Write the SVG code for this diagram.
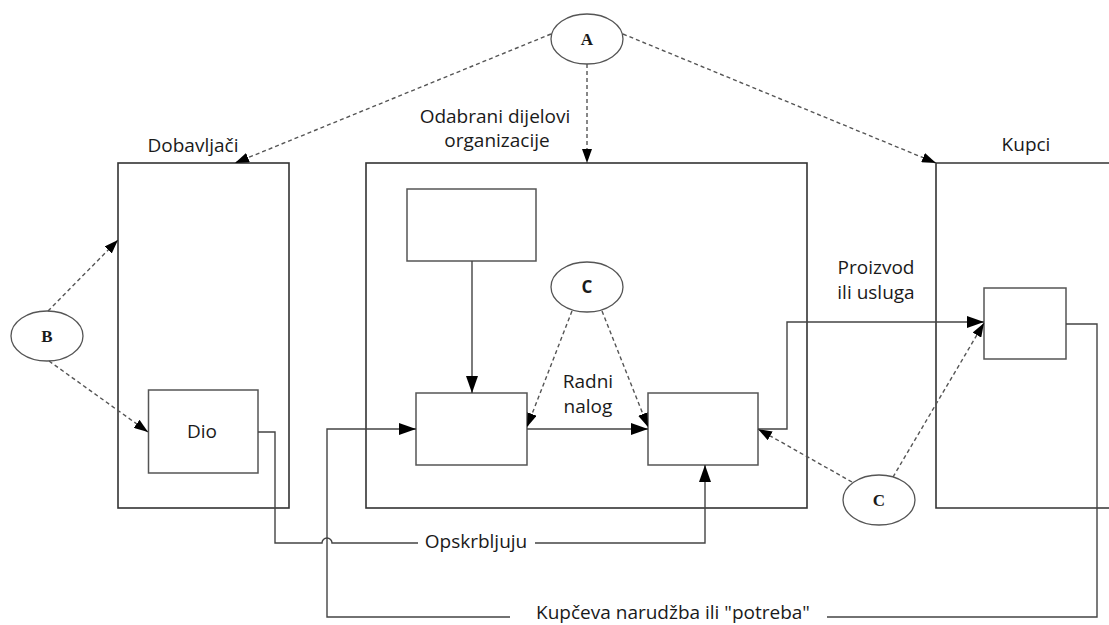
<svg xmlns="http://www.w3.org/2000/svg" width="1109" height="625" viewBox="0 0 1109 625">
<style>
.big{fill:none;stroke:#333;stroke-width:1.6}
.box{fill:#fff;stroke:#555;stroke-width:1.5}
.ell{fill:#fff;stroke:#555;stroke-width:1.3}
.dash{fill:none;stroke:#555;stroke-width:1.4;stroke-dasharray:4 3}
.solid{fill:none;stroke:#444;stroke-width:1.4}
.lbl{font-family:"Open Sans","Liberation Sans",sans-serif;font-size:19px;fill:#1a1a1a;text-anchor:middle}
.let{font-family:"Liberation Serif",serif;font-weight:bold;font-size:17px;fill:#1a1a1a;text-anchor:middle}
</style>
<defs>
<marker id="ah" markerWidth="17" markerHeight="12" refX="17" refY="6" orient="auto" markerUnits="userSpaceOnUse"><path d="M0,0 L17,6 L0,12 Z" fill="#000"/></marker>
<marker id="ad" markerWidth="14" markerHeight="10" refX="14" refY="5" orient="auto" markerUnits="userSpaceOnUse"><path d="M0,0 L14,5 L0,10 Z" fill="#000"/></marker>
</defs>

<g id="dobavljaci">
<rect class="big" x="118" y="163" width="171" height="345"/>
<text class="lbl" x="193" y="152">Dobavljači</text>
</g>
<g id="organizacija">
<rect class="big" x="366" y="163" width="441" height="345"/>
<text class="lbl" x="495" y="123">Odabrani dijelovi</text>
<text class="lbl" x="497" y="147">organizacije</text>
</g>
<g id="kupci">
<path class="big" d="M1109,163 H936 V508 H1109"/>
<text class="lbl" x="1026" y="151">Kupci</text>
</g>
<g id="dio">
<rect class="box" x="148.5" y="390" width="109.5" height="83"/>
<text class="lbl" x="202" y="438">Dio</text>
</g>
<g id="box-top"><rect class="box" x="407" y="189" width="129" height="72"/></g>
<g id="box-left"><rect class="box" x="416" y="393" width="111" height="72"/></g>
<g id="box-right"><rect class="box" x="648" y="393" width="110" height="72"/></g>
<g id="box-kupac"><rect class="box" x="984" y="288" width="82" height="71"/></g>

<g id="nodeA"><ellipse class="ell" cx="587" cy="39" rx="36" ry="25"/><text class="let" x="587" y="45">A</text></g>
<g id="nodeB"><ellipse class="ell" cx="47" cy="336" rx="36" ry="25"/><text class="let" x="47" y="342">B</text></g>
<g id="nodeC1"><ellipse class="ell" cx="587" cy="287" rx="36" ry="25"/><text class="let" x="587" y="293" style="font-family:'Open Sans','Liberation Sans',sans-serif">C</text></g>
<g id="nodeC2"><ellipse class="ell" cx="879" cy="500" rx="36" ry="25"/><text class="let" x="879" y="506">C</text></g>

<g id="connectors">
<line class="dash" x1="551" y1="34" x2="235" y2="163" marker-end="url(#ad)"/>
<line class="dash" x1="587" y1="64" x2="587" y2="163" marker-end="url(#ad)"/>
<line class="dash" x1="623" y1="34" x2="936" y2="163" marker-end="url(#ad)"/>
<line class="dash" x1="48" y1="311" x2="118" y2="240" marker-end="url(#ad)"/>
<line class="dash" x1="49" y1="361" x2="148" y2="432" marker-end="url(#ad)"/>
<line class="dash" x1="572" y1="311" x2="527" y2="427" marker-end="url(#ad)"/>
<line class="dash" x1="602" y1="311" x2="648" y2="427" marker-end="url(#ad)"/>
<line class="dash" x1="852" y1="482" x2="758" y2="429" marker-end="url(#ad)"/>
<line class="dash" x1="893" y1="477" x2="984" y2="323" marker-end="url(#ad)"/>

<line class="solid" x1="472" y1="261" x2="472" y2="393" marker-end="url(#ah)"/>
<line class="solid" x1="527" y1="429" x2="648" y2="429" marker-end="url(#ah)"/>
<path class="solid" d="M758,429 H787 V322 H984" marker-end="url(#ah)"/>
<path class="solid" d="M1066,324 H1097 V617 H827"/>
<path class="solid" d="M510,617 H327 V429 H416" marker-end="url(#ah)"/>
<path class="solid" d="M258,432 H275 V543 H322 A5,5 0 0 1 332,543 H418"/>
<path class="solid" d="M535,543 H705 V465" marker-end="url(#ah)"/>
<text class="lbl" x="588" y="388">Radni</text>
<text class="lbl" x="588" y="413">nalog</text>
<text class="lbl" x="876" y="274">Proizvod</text>
<text class="lbl" x="876" y="299">ili usluga</text>
<text class="lbl" x="476" y="548">Opskrbljuju</text>
<text class="lbl" x="673" y="619">Kupčeva narudžba ili "potreba"</text>
</g>
</svg>
